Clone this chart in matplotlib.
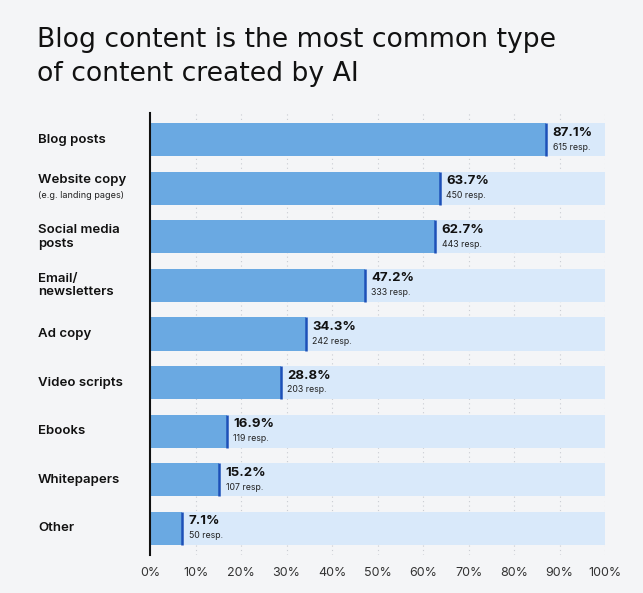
import numpy as np
import matplotlib
matplotlib.use("Agg")
import matplotlib.pyplot as plt

plt.rcParams['font.family'] = ['Inter', 'DejaVu Sans']

title_lines = ["Blog content is the most common type", "of content created by AI"]
categories = ["Blog posts", "Website copy", "Social media\nposts", "Email/\nnewsletters",
              "Ad copy", "Video scripts", "Ebooks", "Whitepapers", "Other"]
subtitles = ["", "(e.g. landing pages)", "", "", "", "", "", "", ""]
percent = [87.1, 63.7, 62.7, 47.2, 34.3, 28.8, 16.9, 15.2, 7.1]
responses = [615, 450, 443, 333, 242, 203, 119, 107, 50]
ticks = list(range(0, 101, 10))

bg = "#f4f5f7"
bar_color = "#6aa9e2"
track_color = "#d9e9fa"
edge_color = "#1d50b8"

fig = plt.figure(figsize=(6.43, 5.93), dpi=100, facecolor=bg)
ax = fig.add_axes([150 / 643, 1 - 555 / 593, 455 / 643, 442 / 593])
ax.set_facecolor(bg)

y = np.arange(len(categories))
h = 0.68
ax.barh(y, [100] * len(y), height=h, color=track_color, zorder=1)
ax.barh(y, percent, height=h, color=bar_color, zorder=2)
ax.vlines(percent, y - h / 2, y + h / 2, color=edge_color, lw=1.8, zorder=3)

for yi, p, r in zip(y, percent, responses):
    ax.text(p + 1.4, yi - 0.02, f"{p}%", fontsize=9.5, fontweight='bold',
            color="#111111", va='bottom', ha='left', zorder=4)
    ax.text(p + 1.4, yi + 0.06, f"{r} resp.", fontsize=6.3,
            color="#222222", va='top', ha='left', zorder=4)

for xt in ticks[1:]:
    ax.axvline(xt, color="#c9ccd2", lw=0.8, ls=(0, (1, 3)), zorder=0)

ax.set_xlim(0, 100)
ax.set_ylim(8.55, -0.55)
ax.set_xticks(ticks)
ax.set_xticklabels([f"{t}%" for t in ticks], fontsize=9, color="#333333")
ax.set_yticks([])
ax.tick_params(axis='x', length=0, pad=9)
for s in ["top", "right", "bottom"]:
    ax.spines[s].set_visible(False)
ax.spines["left"].set_linewidth(1.5)
ax.spines["left"].set_color("#111111")

for yi, cat, sub in zip(y, categories, subtitles):
    yd = ax.transData.transform((0, yi))[1]
    yf = fig.transFigure.inverted().transform((0, yd))[1]
    if sub:
        fig.text(38 / 643, yf + 0.004, cat, fontsize=9.5, fontweight='semibold',
                 color="#111111", va='bottom', ha='left')
        fig.text(38 / 643, yf - 0.004, sub, fontsize=6.5,
                 color="#222222", va='top', ha='left')
    else:
        fig.text(38 / 643, yf, cat, fontsize=9.5, fontweight='semibold',
                 color="#111111", va='center', ha='left', linespacing=1.15)

for line, base in zip(title_lines, [47, 81]):
    fig.text(37 / 643, 1 - base / 593, line, family='DejaVu Sans',
             fontsize=19.2, color="#111111", va='baseline', ha='left')

fig.savefig("out.png", dpi=100, facecolor=bg)
